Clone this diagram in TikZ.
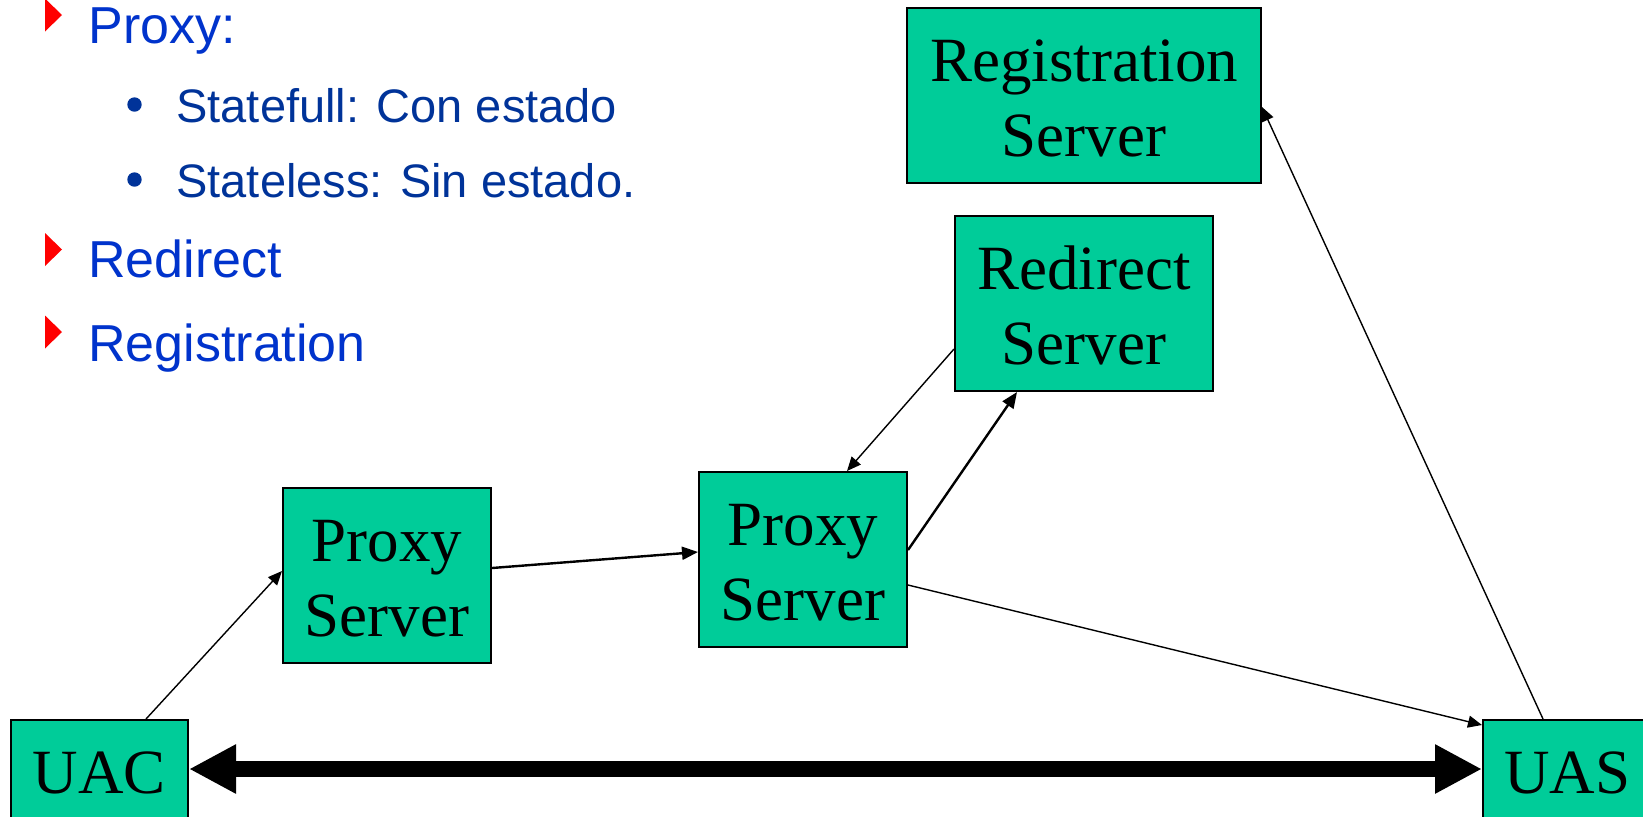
\documentclass[tikz,border=0pt]{standalone}
\usepackage{fontspec}
\setmainfont{Liberation Serif}
\newfontfamily\arialfont{Liberation Sans}
\usetikzlibrary{arrows.meta,calc}

\definecolor{boxgreen}{HTML}{00CC99}
\definecolor{itemblue}{HTML}{0033CC}
\definecolor{subblue}{HTML}{003399}

% a little extra room above the first line of a two-line box
\newcommand\toproom{\rule{0pt}{24pt}}

\tikzset{
  srv/.style={draw=black, line width=1pt, fill=boxgreen, inner sep=0pt,
    align=center, font=\fontsize{31.5}{37.5}\selectfont},
  conn/.style={line width=0.7pt, -{Triangle[length=7pt,width=6pt]}},
  connb/.style={line width=1.2pt, -{Triangle[length=8pt,width=6.5pt]}},
  bigarrow/.style={line width=8pt,
    {Triangle[length=23.5pt,width=23pt]}-{Triangle[length=23.5pt,width=23pt]}},
  item/.style={anchor=base west, inner sep=0pt, text=itemblue,
    font=\arialfont\fontsize{26}{30}\selectfont},
  subitem/.style={anchor=base west, inner sep=0pt, text=subblue,
    font=\arialfont\fontsize{23.5}{28}\selectfont},
}

\begin{document}
\begin{tikzpicture}[x=0.5pt, y=-0.5pt]
\useasboundingbox (0,0) rectangle (1643,816);

% bullet list
\foreach \yc in {15, 249.5, 332}
  \fill[red] (45,\yc-16.5) -- (62,\yc) -- (45,\yc+16.5) -- cycle;
\foreach \yc in {104.5, 179.5}
  \fill[subblue] (134.5,\yc) circle (3.6pt);
\node[item] (tproxy) at (88,43) {Proxy:};
\node[subitem] (tfull) at (176,122) {Statefull: Con estado};
\node[subitem] (tless) at (176,197) {Stateless: Sin estado.};
\node[item] (tredir) at (88,277) {Redirect};
\node[item] (treg) at (88,361) {Registration};

% servers and user agents
\node[srv, minimum width=177pt, minimum height=87.5pt] (RG) at (1084,95.5) {\toproom Registration\\Server};
\node[srv, minimum width=129pt, minimum height=87.5pt] (RD) at (1084,303.5) {\toproom Redirect\\Server};
\node[srv, minimum width=104pt, minimum height=87.5pt] (P1) at (387,575.5) {\toproom Proxy\\Server};
\node[srv, minimum width=104pt, minimum height=87.5pt] (P2) at (803,559.5) {\toproom Proxy\\Server};
\node[srv, minimum width=88.5pt, minimum height=52.5pt] (UAC) at (99.5,772.5) {UAC};
\node[srv, minimum width=84.5pt, minimum height=52.5pt] (UAS) at (1567.5,772.5) {UAS};

% signalling paths
\draw[conn] ($(UAC.north west)+(136,0)$) -- ($(P1.west)+(0,-4.5)$);
\draw[connb] ($(P1.east)+(0,-7.5)$) -- ($(P2.west)+(0,-7.5)$);
\draw[conn] ($(RD.west)+(0,45.5)$) -- ($(P2.north)+(44,0)$);
\draw[connb] ($(P2.east)+(0,-9.5)$) -- ($(RD.south)+(-67,0)$);
\draw[conn] ($(P2.east)+(0,25.5)$) -- ($(UAS.north west)+(0,6)$);
\draw[conn] ($(UAS.north west)+(61,0)$) -- ($(RG.east)+(0,11.5)$);

% media path
\draw[bigarrow] ($(UAC.east)+(0,-3.5)$) -- ($(UAS.west)+(0,-3.5)$);
\end{tikzpicture}
\end{document}
